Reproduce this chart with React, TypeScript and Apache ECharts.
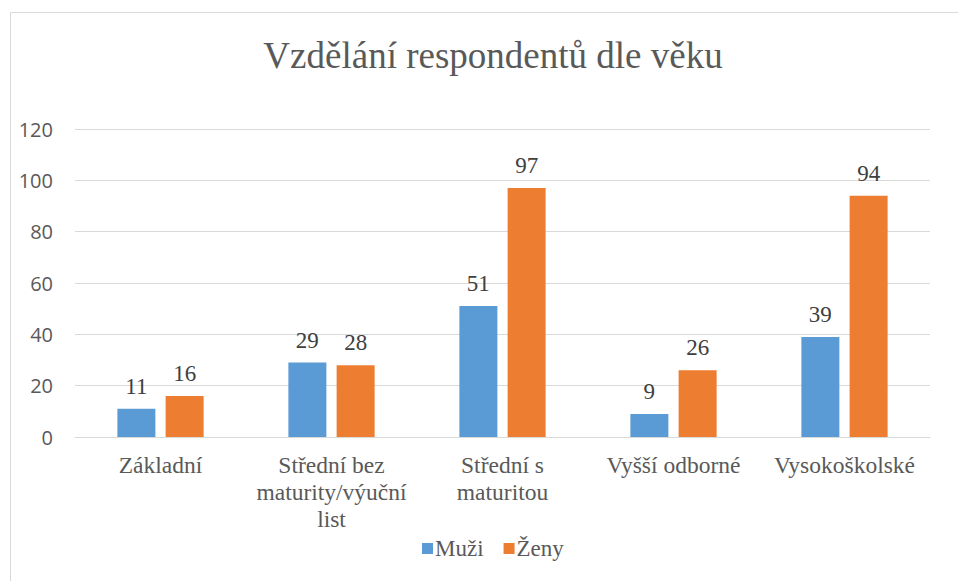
import React, { useEffect, useRef } from "react";
import * as echarts from "echarts";

const categories = [
  "Základní",
  "Střední bez\nmaturity/výuční\nlist",
  "Střední s\nmaturitou",
  "Vyšší odborné",
  "Vysokoškolské",
];
const muzi = [11, 29, 51, 9, 39];
const zeny = [16, 28, 97, 26, 94];
const yTicks = { min: 0, max: 120, interval: 20 };

export default function App() {
  const ref = useRef<HTMLDivElement>(null);
  useEffect(() => {
    if (!ref.current) return;
    const chart = echarts.init(ref.current, undefined, { renderer: "svg" });
    const serif = "Liberation Serif, Times New Roman, serif";
    const labelStyle = {
      show: true,
      position: "top" as const,
      fontFamily: serif,
      fontSize: 23,
      color: "#404040",
      distance: 11,
    };
    chart.setOption({
      animation: false,
      backgroundColor: "#ffffff",
      graphic: [
        {
          type: "rect",
          shape: { x: 10.5, y: 12.5, width: 960, height: 580 },
          style: { fill: "none", stroke: "#d9d9d9", lineWidth: 1 },
          silent: true,
        },
      ],
      title: {
        text: "Vzdělání respondentů dle věku",
        left: 488,
        textAlign: "center",
        top: 32,
        textStyle: {
          fontFamily: serif,
          fontSize: 37,
          fontWeight: "normal",
          color: "#595959",
        },
      },
      legend: {
        bottom: 16,
        left: 417,
        itemWidth: 11,
        itemHeight: 11,
        itemGap: 20,
        icon: "rect",
        textStyle: { fontFamily: serif, fontSize: 23, color: "#595959", padding: [0, 0, 0, -3] },
        data: ["Muži", "Ženy"],
      },
      grid: { left: 75, right: 28, top: 129, bottom: 144, containLabel: false },
      xAxis: {
        type: "category",
        data: categories,
        axisLine: { lineStyle: { color: "#d9d9d9", width: 1 } },
        axisTick: { show: false },
        axisLabel: {
          fontFamily: serif,
          fontSize: 23.5,
          color: "#595959",
          lineHeight: 27,
          margin: 14,
          interval: 0,
        },
      },
      yAxis: {
        type: "value",
        min: yTicks.min,
        max: yTicks.max,
        interval: yTicks.interval,
        axisLine: { show: false },
        axisTick: { show: false },
        splitLine: { lineStyle: { color: "#d9d9d9", width: 1 } },
        axisLabel: {
          fontFamily: "Open Sans, sans-serif",
          fontSize: 20,
          color: "#595959",
          margin: 22,
        },
      },
      series: [
        {
          name: "Muži",
          type: "bar",
          data: muzi,
          barWidth: 38,
          barGap: "27%",
          itemStyle: { color: "#5b9bd5" },
          label: labelStyle,
        },
        {
          name: "Ženy",
          type: "bar",
          data: zeny,
          barWidth: 38,
          itemStyle: { color: "#ed7d31" },
          label: labelStyle,
        },
      ],
    });
    return () => chart.dispose();
  }, []);
  return (
    <div
      ref={ref}
      style={{ position: "absolute", left: 0, top: 0, width: 958, height: 581 }}
    />
  );
}
